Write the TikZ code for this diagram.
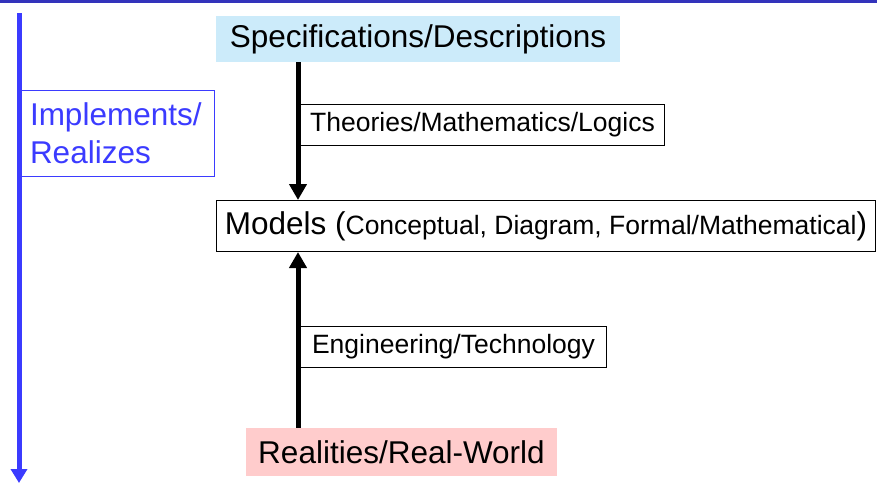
\documentclass[tikz,border=0pt]{standalone}
\usepackage{fontspec}
\setmainfont{Liberation Sans}
\usetikzlibrary{arrows.meta}
\definecolor{specblue}{HTML}{CCEBFA}
\definecolor{realpink}{HTML}{FFCCCC}
\definecolor{impblue}{HTML}{3B3BFF}
\definecolor{topblue}{HTML}{3333BB}
\newcommand{\bigfont}{\fontsize{31.5}{38}\selectfont}
\newcommand{\smallfont}{\fontsize{26.5}{31}\selectfont}
\tikzset{
  x=1pt, y=-1pt,
  bigbox/.style={inner sep=0pt, font=\bigfont, text=black},
  labelbox/.style={draw=black, line width=1pt, fill=white, inner sep=0pt, font=\smallfont},
  bigarrow/.style={line width=5pt, -{Triangle[width=17pt,length=16pt]}},
  bluearrow/.style={draw=impblue, line width=5pt, -{Triangle[width=16pt,length=14pt]}}
}
\begin{document}
\begin{tikzpicture}
\useasboundingbox (0,0) rectangle (877,483);
% top rule
\coordinate (tl) at (0,1.5);
\coordinate (tr) at (877,1.5);
\draw[topblue, line width=3pt] (tl) -- (tr);
% nodes
\node[bigbox, fill=specblue, minimum width=404pt, minimum height=46pt] (spec) at (418,39) {Specifications/Descriptions};
\node[bigbox, draw=black, line width=1pt, fill=white, minimum width=659pt, minimum height=51pt] (models) at (546,226) {Models (\smallfont Conceptual, Diagram, Formal/Mathematical\bigfont)};
\node[bigbox, fill=realpink, minimum width=311pt, minimum height=48pt] (real) at (401.5,452) {Realities/Real-World};
% arrows
\coordinate (ax) at (298,0);
\draw[bigarrow] (spec.south -| ax) -- (models.north -| ax);
\draw[bigarrow] (real.north -| ax) -- (models.south -| ax);
\node[labelbox, minimum width=364pt, minimum height=41pt] (theo) at (482.5,125) {Theories/Mathematics/Logics};
\node[labelbox, minimum width=306pt, minimum height=41pt] (eng) at (453.5,347) {Engineering/Technology};
% blue arrow and box
\node[draw=impblue, line width=1pt, minimum width=193pt, minimum height=86pt, inner sep=0pt, text=impblue, font=\bigfont, align=left, text width=175pt] (impl) at (117.5,133) {Implements/\\Realizes};
\coordinate (btop) at (19,13);
\coordinate (bbot) at (19,483);
\draw[bluearrow] (btop) -- (bbot);
\end{tikzpicture}
\end{document}
